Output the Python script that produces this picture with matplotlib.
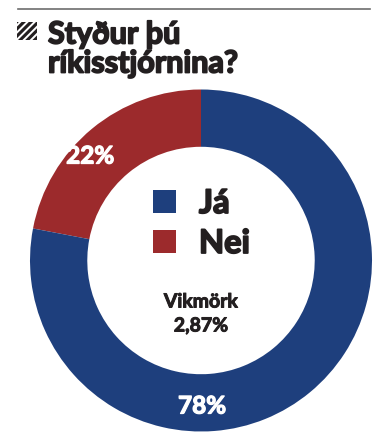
import matplotlib
matplotlib.use("Agg")
import matplotlib.pyplot as plt
import matplotlib.patheffects as pe
from matplotlib.patches import Rectangle, Polygon
from matplotlib.lines import Line2D

# data
categories = ["Nei", "Já"]
values = [22, 78]
labels = ["22%", "78%"]
title_lines = ["Styður þú", "ríkisstjórnina?"]
margin_label = "Vikmörk"
margin_value = "2,87%"

blue = "#1e3f7d"
red = "#9c2a2c"
dark = "#231f20"
colors = [red, blue]

W, H = 390, 444
fig = plt.figure(figsize=(W/100, H/100), dpi=100)
fig.patch.set_facecolor("white")

def fx(x): return x / W
def fy(y): return 1 - y / H

FONT = ["Lato", "DejaVu Sans"]

def heavy(width, col):
    return [pe.withStroke(linewidth=width, foreground=col)]

# top rule
fig.add_artist(Line2D([fx(18), fx(370)], [fy(9), fy(9)], color="#6d6d6d", lw=1.2))

# hatched icon
iax = fig.add_axes([fx(17), fy(40), fx(37)-fx(17), fy(22)-fy(40)])
iax.set_xlim(0, 1); iax.set_ylim(0, 1); iax.axis("off")
clip = Rectangle((0, 0), 1, 1, transform=iax.transData, fill=False, lw=0)
iax.add_patch(clip)
for k in range(-3, 4):
    off = k * 0.36 + 0.05
    p = Polygon([(off, 0), (off + 0.22, 0), (off + 0.22 + 0.9, 1), (off + 0.9, 1)],
                closed=True, color=dark, lw=0)
    iax.add_patch(p)
    p.set_clip_path(clip)

# title
for txt, base in [(title_lines[0], 43.5), (title_lines[1], 72.5)]:
    fig.text(fx(48), fy(base), txt, fontsize=22, fontweight="bold",
             family=FONT, color=dark, va="baseline", ha="left",
             path_effects=heavy(1.3, dark))

# donut
cx, cy, R = 201, 260.5, 171
ax = fig.add_axes([fx(cx - R), fy(cy + R), 2*R/W, 2*R/H])
ax.pie(values, colors=colors, startangle=90, counterclock=True,
       wedgeprops=dict(width=0.335, edgecolor="none"), radius=1)
ax.set_xlim(-1, 1); ax.set_ylim(-1, 1)
ax.set_aspect("auto")
ax.axis("off")

ax.text(-0.649, 0.611, labels[0], fontsize=17.5, fontweight="bold", family=FONT,
        color="white", ha="center", va="center", path_effects=heavy(0.9, "white"))
ax.text(0.006, -0.851, labels[1], fontsize=17.5, fontweight="bold", family=FONT,
        color="white", ha="center", va="center", path_effects=heavy(0.9, "white"))

# legend
for (name, col, yb) in [(categories[1], blue, 213), (categories[0], red, 253)]:
    fig.add_artist(Rectangle((fx(152.5), fy(yb)), 23.5/W, 23/H,
                             transform=fig.transFigure, color=col, lw=0))
    fig.text(fx(199), fy(yb), name, fontsize=23.5, fontweight="bold", family=FONT,
             color=dark, va="baseline", ha="left", path_effects=heavy(1.3, dark))

fig.text(fx(201), fy(302), margin_label, fontsize=14, fontweight="bold",
         family=FONT, color=dark, ha="center", va="center",
         path_effects=heavy(0.7, dark))
fig.text(fx(201), fy(326), margin_value, fontsize=14, fontweight="bold",
         family=FONT, color=dark, ha="center", va="center",
         path_effects=heavy(0.7, dark))

fig.savefig("out.png", dpi=100, facecolor="white")
